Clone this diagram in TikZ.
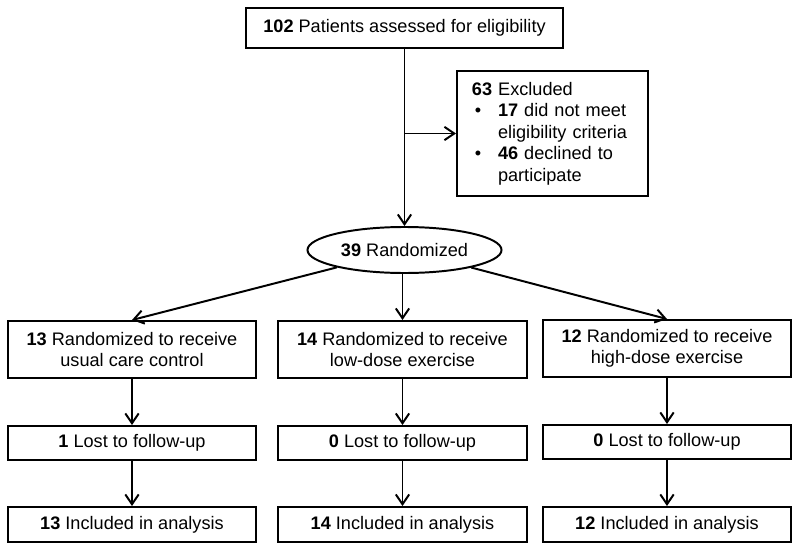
\documentclass[tikz,border=0pt]{standalone}
\usepackage{fontspec}
\setmainfont{Liberation Sans}
\usetikzlibrary{arrows.meta,shapes.geometric}
\begin{document}
\begin{tikzpicture}
        [x=0.025cm,y=-0.025cm,
        font=\fontsize{12.9}{15.3}\selectfont,
        box/.style={draw=black, line width=1.4pt, inner sep=0pt, align=center},
        arm/.style={box, minimum width=6.2cm},
        line/.style={line width=1.4pt, -{Straight Barb[length=7pt,width=9.5pt]}}]
        \useasboundingbox (0,0) rectangle (800,551);
        \node[box, minimum width=7.925cm, minimum height=1cm] (screen) at (404.5,28) {\textbf{102} Patients assessed for eligibility};
        \node[box, align=left, text width=4.025cm, inner xsep=0.375cm, minimum height=3.125cm] (excl) at (552.5,133.5)
            {\textbf{63} Excluded\\
             \makebox[18.5pt][l]{\hspace{2pt}\textbullet}\textbf{17} did not meet\\
             \hspace*{18.5pt}eligibility criteria\\
             \makebox[18.5pt][l]{\hspace{2pt}\textbullet}\textbf{46} declined to\\
             \hspace*{18.5pt}participate};
        \node[box, ellipse, minimum width=4.85cm, minimum height=1.15cm] (rand) at (404.5,250) {\textbf{39} Randomized};
        \node[arm, minimum height=1.425cm] (usual) at (132,349.5) {\textbf{13} Randomized to receive\\usual care control};
        \node[arm, minimum height=1.425cm] (low) at (402.5,349.5) {\textbf{14} Randomized to receive\\low-dose exercise};
        \node[arm, minimum height=1.425cm] (high) at (667,348.5) {\textbf{12} Randomized to receive\\high-dose exercise};
        \node[arm, minimum height=0.85cm] (usuallost) at (132,443) {\textbf{1} Lost to follow-up};
        \node[arm, minimum height=0.85cm] (lowlost) at (402.5,443) {\textbf{0} Lost to follow-up};
        \node[arm, minimum height=0.85cm] (highlost) at (667,442) {\textbf{0} Lost to follow-up};
        \node[arm, minimum height=0.875cm] (usualana) at (132,524.5) {\textbf{13} Included in analysis};
        \node[arm, minimum height=0.875cm] (lowana) at (402.5,524.5) {\textbf{14} Included in analysis};
        \node[arm, minimum height=0.875cm] (highana) at (667,524.5) {\textbf{12} Included in analysis};
        \coordinate (split) at (screen.south |- excl.west);
        \draw[line] (screen.south) -- (screen.south |- rand.north);
        \draw[line] (split) -- (excl.west);
        \draw[line] (rand) -- (usual.north);
        \draw[line] (rand.south -| low.north) -- (low.north);
        \draw[line] (rand) -- (high.north);
        \draw[line] (usual) -- (usuallost);
        \draw[line] (low) -- (lowlost);
        \draw[line] (high) -- (highlost);
        \draw[line] (usuallost) -- (usualana);
        \draw[line] (lowlost) -- (lowana);
        \draw[line] (highlost) -- (highana);
    \end{tikzpicture}
\end{document}
